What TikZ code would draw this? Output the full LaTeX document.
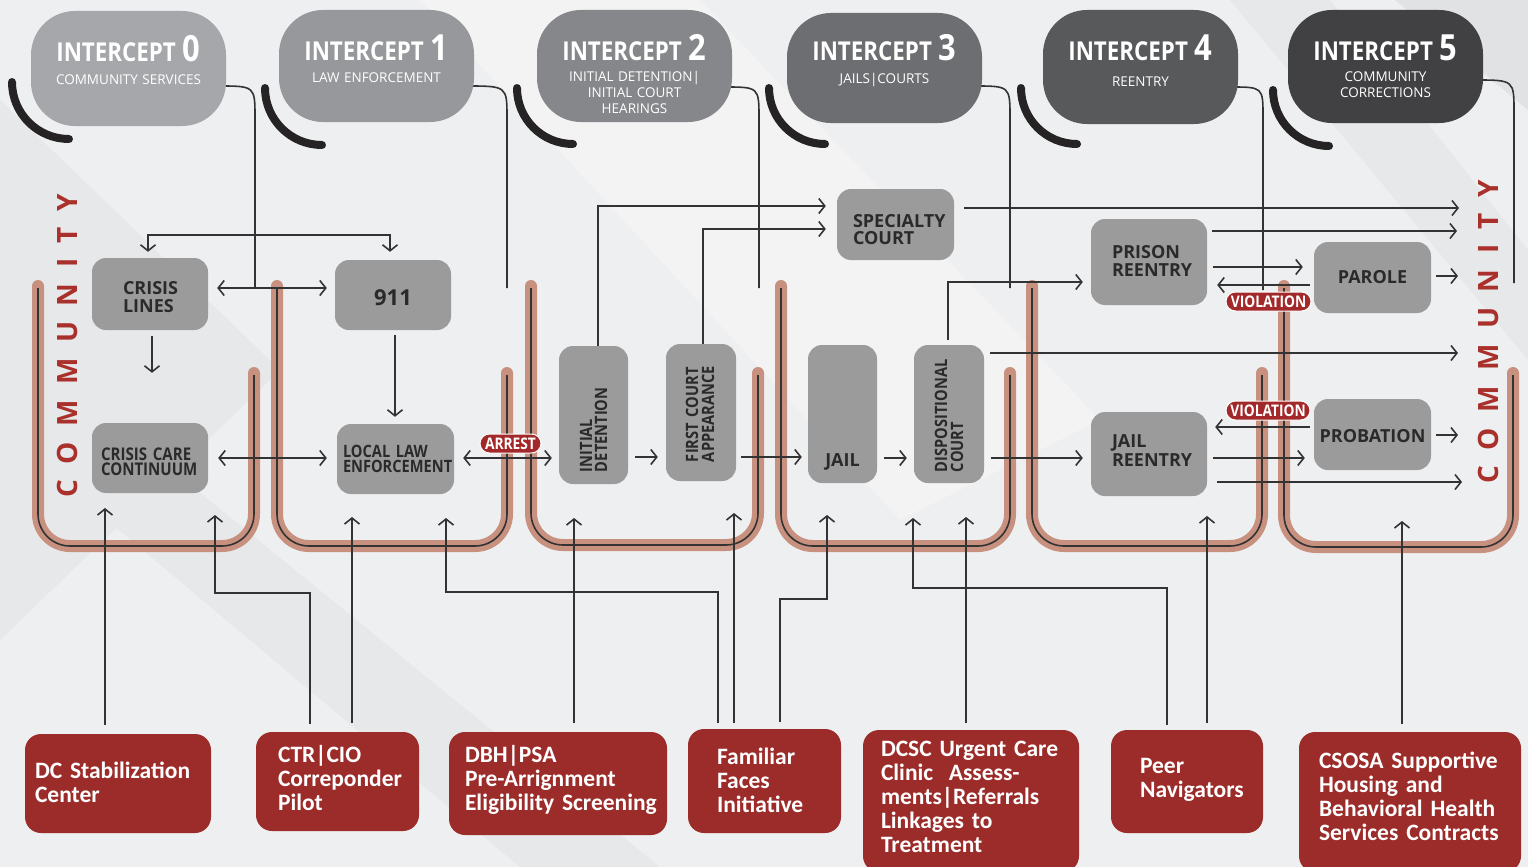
\documentclass[tikz,border=0pt]{standalone}
\usepackage{fontspec}
\setmainfont{Open Sans}
\newfontfamily\cnd{Open Sans}[FakeStretch=0.86]
\newfontfamily\crl{Carlito}
\usetikzlibrary{arrows.meta}
\definecolor{bgc}{HTML}{EEEFF1}
\definecolor{bgd}{HTML}{E7E8EA}
\definecolor{bgdd}{HTML}{E1E2E4}
\definecolor{bgl}{HTML}{F3F3F4}
\definecolor{hA}{HTML}{A6A7AA}
\definecolor{hB}{HTML}{97989B}
\definecolor{hC}{HTML}{86878A}
\definecolor{hD}{HTML}{6D6E71}
\definecolor{hE}{HTML}{58595B}
\definecolor{hF}{HTML}{414143}
\definecolor{arcc}{HTML}{262324}
\definecolor{lnc}{HTML}{333333}
\definecolor{boxg}{HTML}{9B9B9B}
\definecolor{boxt}{HTML}{2A2A2A}
\definecolor{redb}{HTML}{9B2C2A}
\definecolor{redl}{HTML}{A3282A}
\definecolor{pinkc}{HTML}{C8917F}
\definecolor{comc}{HTML}{A9302B}
\newcommand\hdrtitle[1]{{\cnd\bfseries\fontsize{26}{26}\selectfont INTERCEPT\hspace{7pt}\fontsize{36}{36}\selectfont #1}}
\begin{document}
\begin{tikzpicture}[x=1pt,y=-1pt,
  >={Straight Barb[length=6pt,width=15pt]},
  ln/.style={draw=lnc,line width=1.6pt},
  hdr/.style={rounded corners=44pt,inner sep=0pt,text width=195pt,align=center,text=white,font=\fontsize{13.5}{16}\selectfont},
  gb/.style={fill=boxg,rounded corners=14pt,inner sep=0pt,text=boxt,align=left},
  gf/.style={font=\bfseries\fontsize{18}{#1}\selectfont},
  gc/.style={font=\cnd\bfseries\fontsize{17}{#1}\selectfont},
  rb/.style={fill=redb,rounded corners=16pt,inner sep=0pt,text=white,align=left,font=\crl\bfseries\fontsize{23.5}{24}\selectfont},
  tag/.style={fill=redl,draw=white,line width=1pt,rounded corners=9.5pt,inner sep=0pt,minimum height=19pt,text=white,font=\cnd\bfseries\fontsize{16}{16}\selectfont},
  arcs/.style={draw=arcc,line width=8pt,line cap=round},
  pu/.style={draw=pinkc,line width=12pt,line cap=round,rounded corners=32pt},
  du/.style={draw=lnc,line width=1.6pt,rounded corners=32pt},
  com/.style={text=comc,font=\bfseries\fontsize{28}{28}\selectfont,inner sep=0pt,rotate=90,anchor=west}
]
\useasboundingbox (0,0) rectangle (1528,867);
% background
\fill[bgc] (0,0) rectangle (1528,867);
\fill[bgd] (0,100) -- (280,370) -- (0,640) -- cycle;
\fill[bgd] (0,330) -- (0,430) -- (520,867) -- (660,867) -- cycle;
\fill[bgl] (420,0) -- (700,0) -- (1100,420) -- (900,520) -- cycle;
\fill[bgdd] (1395,0) -- (1528,0) -- (1528,110) -- cycle;
\fill[bgd] (1230,0) -- (1330,0) -- (1528,250) -- (1528,360) -- cycle;

% black arcs
\draw[arcs] (12,82) arc[start angle=180,end angle=90,radius=57];
\draw[arcs] (265,88) arc[start angle=180,end angle=90,radius=57];
\draw[arcs] (517,88) arc[start angle=180,end angle=90,radius=56];
\draw[arcs] (769,88) arc[start angle=180,end angle=90,radius=56];
\draw[arcs] (1021,88) arc[start angle=180,end angle=90,radius=56];
\draw[arcs] (1273,90) arc[start angle=180,end angle=90,radius=56];

% header anchor positions
\coordinate (p0) at (128.5,68.5);
\coordinate (p1) at (376.5,66);
\coordinate (p2) at (634.5,66);
\coordinate (p3) at (884.5,68);
\coordinate (p4) at (1140.5,67);
\coordinate (p5) at (1385.5,66.5);

% header leads (drawn first, pills cover their starts)
\coordinate (j0) at (255,288);
\coordinate (j1) at (507,288);
\coordinate (j2) at (759,288);
\coordinate (j3) at (1010,288);
\coordinate (j4) at (1263,290);
\coordinate (j5) at (1514,283);
\draw[ln] (218,86) .. controls (255,86) .. (255,118) -- (j0);
\draw[ln] (466,86) .. controls (507,86) .. (507,118) -- (j1);
\draw[ln] (724,87) .. controls (759,87) .. (759,119) -- (j2);
\draw[ln] (974,86) .. controls (1010,86) .. (1010,118) -- (j3);
\draw[ln] (1230,87) .. controls (1263,87) .. (1263,117) -- (j4);
\draw[ln] (1475,80) .. controls (1514,80) .. (1514,112) -- (j5);

% header pills
\node[hdr,fill=hA,text height=51pt,text depth=64pt] (i0) at (p0) {\hdrtitle{0}\\[7pt]COMMUNITY SERVICES};
\node[hdr,fill=hB,text height=50pt,text depth=62pt] (i1) at (p1) {\hdrtitle{1}\\[6pt]LAW ENFORCEMENT};
\node[hdr,fill=hC,text height=50pt,text depth=62pt] (i2) at (p2) {\hdrtitle{2}\\[5pt]INITIAL DETENTION|\\INITIAL COURT\\HEARINGS};
\node[hdr,fill=hD,text height=48pt,text depth=62pt] (i3) at (p3) {\hdrtitle{3}\\[7pt]JAILS|COURTS};
\node[hdr,fill=hE,text height=51pt,text depth=63pt] (i4) at (p4) {\hdrtitle{4}\\[9pt]REENTRY};
\node[hdr,fill=hF,text height=50pt,text depth=63pt] (i5) at (p5) {\hdrtitle{5}\\[5pt]COMMUNITY\\CORRECTIONS};

% U channels
\foreach \l/\r/\b in {38/254/546, 277/507/546, 531/758/545, 781/1010/546, 1032/1262/546, 1284/1513/547}{
  \draw[pu] (\l,286) -- (\l,\b) -- (\r,\b) -- (\r,373);
  \draw[du] (\l,288) -- (\l,\b) -- (\r,\b) -- (\r,375);
}

% grey boxes
\node[gb,gf=18,text width=54pt,minimum width=116pt,text height=36pt,text depth=36pt] (cl) at (150,294) {CRISIS\\LINES};
\node[gb,font=\bfseries\fontsize{22}{22}\selectfont,minimum width=116pt,text height=45pt,text depth=25pt] (n911) at (393,295) {911};
\node[gb,font=\cnd\bfseries\fontsize{17.5}{15}\selectfont,text width=98pt,minimum width=116pt,text height=37pt,text depth=33pt] (ccc) at (150,458) {CRISIS CARE\\CONTINUUM};
\node[gb,gc=15.5,text width=105pt,minimum width=117pt,text height=33pt,text depth=37pt] (lle) at (395.5,459) {LOCAL LAW\\ENFORCEMENT};
\node[gb,gf=17,text width=85pt,minimum width=117pt,text height=38pt,text depth=33pt] (spec) at (895.5,224.5) {SPECIALTY\\COURT};
\node[gb,gf=18,text width=74pt,minimum width=116pt,text height=39pt,text depth=47pt] (prison) at (1149,262) {PRISON\\REENTRY};
\node[gb,gf=18,align=center,minimum width=117pt,text height=41pt,text depth=30pt] (parole) at (1372.5,277.5) {PAROLE};
\node[gb,gf=19,text width=74pt,minimum width=116pt,text height=35pt,text depth=49pt] (jre) at (1149,454) {JAIL\\REENTRY};
\node[gb,gf=18,align=center,minimum width=117pt,text height=43pt,text depth=28pt] (prob) at (1372.5,434.5) {PROBATION};
\node[gb,gf=18,align=center,minimum width=69pt,text height=121pt,text depth=17pt] (jail) at (842.5,414) {JAIL};
\node[gb,gc=15,rotate=90,text width=114pt,minimum width=138pt,text height=33pt,text depth=36pt] (idet) at (593.5,415) {INITIAL\\DETENTION};
\node[gb,gc=16,rotate=90,text width=99pt,minimum width=137pt,text height=32pt,text depth=38pt] (fca) at (701,412.5) {FIRST COURT\\APPEARANCE};
\node[gb,gc=16,rotate=90,text width=116pt,minimum width=138pt,text height=33pt,text depth=37pt] (dcourt) at (949,414) {DISPOSITIONAL\\COURT};

% red boxes
\node[rb,text width=166pt,minimum width=186pt,text height=44pt,text depth=55pt] (dcs) at (118,783.5) {\mbox{DC Stabilization}\\Center};
\node[rb,text width=119pt,minimum width=163pt,text height=30pt,text depth=69pt] (ctr) at (337.5,781.5) {CTR|CIO\\Correponder\\Pilot};
\node[rb,text width=186pt,minimum width=218pt,text height=30pt,text depth=73pt] (dbh) at (558,783.5) {\mbox{DBH|PSA}\\\mbox{Pre-Arrignment}\\\mbox{Eligibility Screening}};
\node[rb,text width=95pt,minimum width=153pt,text height=35pt,text depth=69pt] (ff) at (764.5,781) {Familiar\\Faces\\Initiative};
\node[rb,text width=180pt,minimum width=216pt,text height=26pt,text depth=116pt] (dcsc) at (971,801) {\mbox{DCSC Urgent Care}\\\mbox{Clinic\ \ Assess-}\\\mbox{ments|Referrals}\\\mbox{Linkages to}\\Treatment};
\node[rb,text width=94pt,minimum width=152pt,text height=43pt,text depth=60pt] (peer) at (1187,781.5) {Peer\\Navigators};
\node[rb,text width=182pt,minimum width=222pt,text height=36pt,text depth=104pt] (csosa) at (1410,802) {\mbox{CSOSA Supportive}\\\mbox{Housing and}\\\mbox{Behavioral Health}\\\mbox{Services Contracts}};

% free ends on the right (toward COMMUNITY)
\coordinate (e1) at (1459,208);
\coordinate (e2) at (1457,231);
\coordinate (e3) at (1458,276);
\coordinate (e4) at (1458,353);
\coordinate (e5) at (1458,435);
\coordinate (e6) at (1462,482);

% connectors, intercept 0-1
\draw[ln,<->,shorten <=6pt,shorten >=8pt] (cl.north -| 148,0) |- (390,235) -- (n911.north -| 390,0);
\draw[ln,<->,shorten <=9pt,shorten >=8pt] (cl.east |- j0) -- (n911.west |- j0);
\draw[ln,->,shorten <=6pt,shorten >=50pt] (cl.south -| 152,0) -- (ccc.north -| 152,0);
\draw[ln,->,shorten <=5pt,shorten >=7pt] (n911.south -| 395,0) -- (lle.north -| 395,0);
\draw[ln,<->,shorten <=10pt,shorten >=10pt] (ccc.east |- 0,458) -- (lle.west |- 0,458);
\draw[ln,<->,shorten <=9pt,shorten >=7pt] (lle.east |- 0,458) -- (idet.north |- 0,458);
% intercept 2-3
\draw[ln,->,shorten <=7pt,shorten >=8pt] (idet.south |- 0,457) -- (fca.north |- 0,457);
\draw[ln,->,shorten <=5pt,shorten >=6pt] (fca.south |- 0,457) -- (jail.west |- 0,457);
\draw[ln,->,shorten <=7pt,shorten >=7pt] (jail.east |- 0,458) -- (dcourt.north |- 0,458);
\draw[ln,->,shorten <=7pt,shorten >=8pt] (dcourt.south |- 0,458) -- (jre.west |- 0,458);
\draw[ln,->,shorten <=5pt,shorten >=8pt] (dcourt.east -| 948,0) |- (prison.west |- 0,282);
\draw[ln,->,shorten <=6pt] (dcourt.south |- e4) -- (e4);
\draw[ln,->,shorten >=11pt] (idet.east -| 598,0) |- (spec.west |- 0,206);
\draw[ln,->,shorten >=11pt] (fca.east -| 703,0) |- (spec.west |- 0,229);
\draw[ln,->,shorten <=10pt] (spec.east |- e1) -- (e1);
% intercept 4-5
\draw[ln,->,shorten <=5pt] (prison.east |- e2) -- (e2);
\draw[ln,->,shorten <=6pt,shorten >=11pt] (prison.east |- 0,267) -- (parole.west |- 0,267);
\draw[ln,->,shorten <=4pt,shorten >=10pt] (parole.west |- 0,285) -- (prison.east |- 0,285);
\draw[ln,->,shorten <=5pt] (parole.east |- e3) -- (e3);
\draw[ln,->,shorten <=6pt,shorten >=9pt] (jre.east |- 0,458) -- (prob.west |- 0,458);
\draw[ln,->,shorten <=4pt,shorten >=8pt] (prob.west |- 0,427) -- (jre.east |- 0,427);
\draw[ln,->,shorten <=10pt] (jre.east |- e6) -- (e6);
\draw[ln,->,shorten <=5pt] (prob.east |- e5) -- (e5);

% bottom feeders
\draw[ln,->,shorten <=9pt] (dcs.north -| 105,0) -- (105,508);
\draw[ln,->,shorten <=8pt] (ctr.north -| 310,0) |- (215,593) -- (215,515);
\draw[ln,->,shorten <=9pt] (ctr.north -| 352,0) -- (352,517);
\draw[ln,->,shorten <=9pt] (dbh.north -| 574,0) -- (574,518);
\draw[ln,->,shorten <=6pt] (ff.north -| 718,0) |- (446,592) -- (446,518);
\draw[ln,->,shorten <=6pt] (ff.north -| 734,0) -- (734,513);
\draw[ln,->,shorten <=7pt] (ff.north -| 780,0) |- (827,599) -- (827,515);
\draw[ln,->,shorten <=7pt] (dcsc.north -| 966,0) -- (966,517);
\draw[ln,->,shorten <=5pt] (peer.north -| 1167,0) |- (913,588) -- (913,518);
\draw[ln,->,shorten <=7pt] (peer.north -| 1207,0) -- (1207,516);
\draw[ln,->,shorten <=8pt] (csosa.north -| 1402,0) -- (1402,521);

% tags
\node[tag,minimum width=61pt] (arrest) at (510.5,443.5) {ARREST};
\node[tag,minimum width=85pt] (viol1) at (1268.5,301.5) {VIOLATION};
\node[tag,minimum width=84pt] (viol2) at (1268,410.5) {VIOLATION};

% COMMUNITY
\node[com] (comL) at (67,498) {C\kern15.5pt O\kern15.5pt M\kern15.5pt M\kern15.5pt U\kern15.5pt N\kern15.5pt I\kern15.5pt T\kern15.5pt Y};
\node[com] (comR) at (1488,484) {C\kern15.5pt O\kern15.5pt M\kern15.5pt M\kern15.5pt U\kern15.5pt N\kern15.5pt I\kern15.5pt T\kern15.5pt Y};
\end{tikzpicture}
\end{document}
